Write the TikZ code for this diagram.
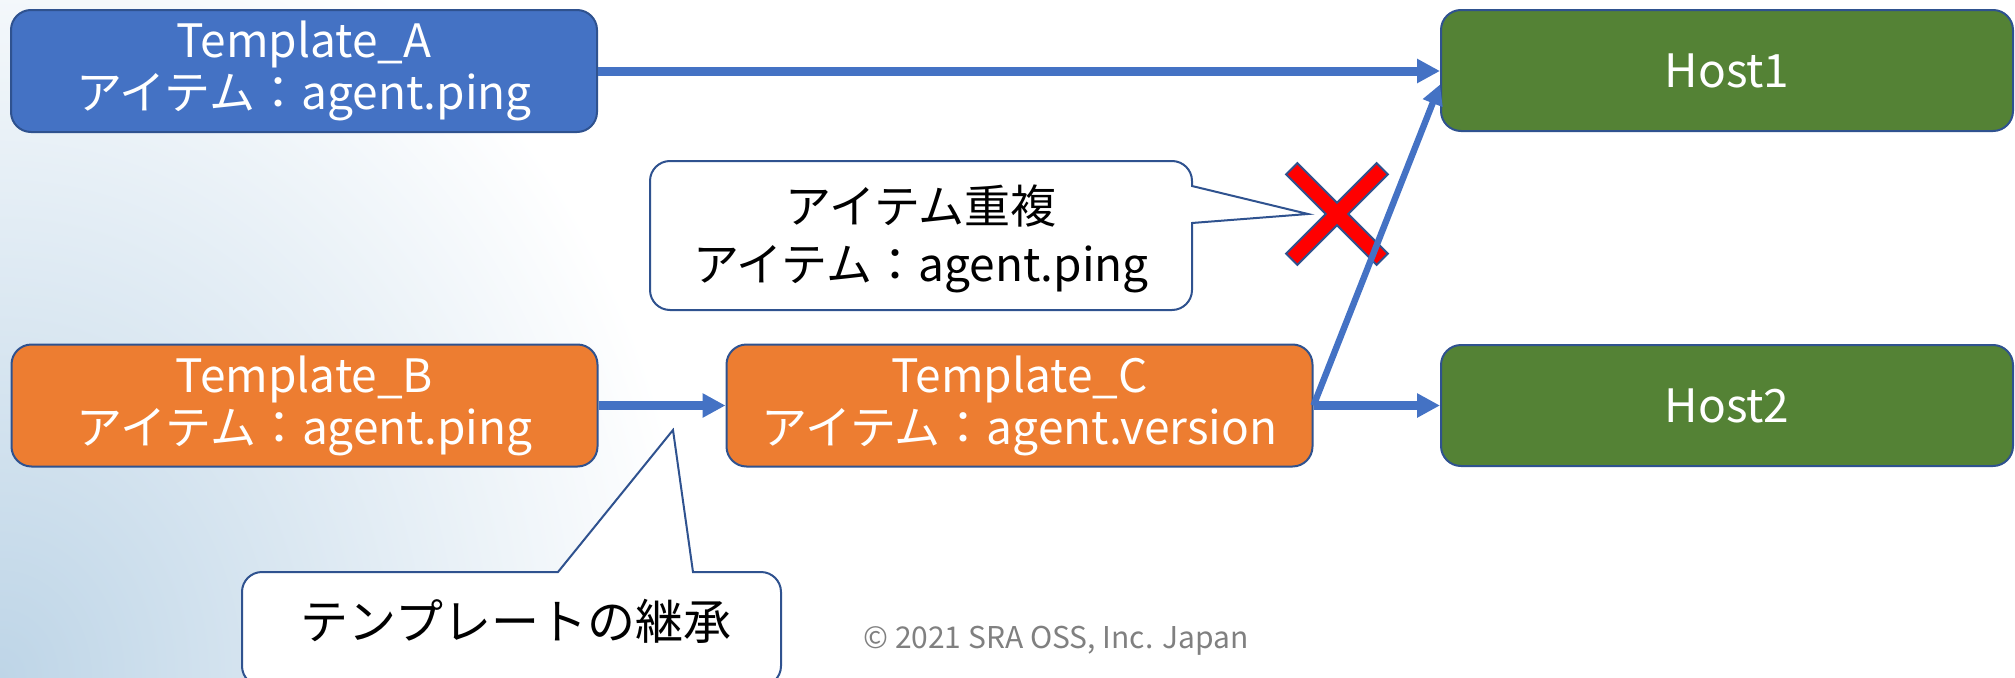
\documentclass[tikz,border=0pt]{standalone}
\usepackage{fontspec}
\setmainfont{Noto Sans CJK JP}
\usetikzlibrary{arrows.meta}
\definecolor{tblue}{HTML}{4472C4}
\definecolor{tborder}{HTML}{2F528F}
\definecolor{torange}{HTML}{ED7D31}
\definecolor{tgreen}{HTML}{548235}
\definecolor{bgblue}{HTML}{BED5E7}
\definecolor{cgray}{HTML}{808080}
\begin{document}
\begin{tikzpicture}[x=0.5pt,y=0.5pt,
  box/.style={draw=tborder, line width=1pt, rounded corners=10pt, text=white, align=center,
    font=\fontsize{23}{26}\selectfont, inner sep=0pt},
  tmpl/.style={box, minimum width=293pt, minimum height=61pt},
  host/.style={box, fill=tgreen, minimum width=286pt, minimum height=60.5pt},
  arr/.style={draw=tblue, line width=4.5pt, -{Triangle[length=11.5pt,width=11.5pt]}},
  thinarr/.style={draw=tblue, line width=3.2pt, -{Triangle[length=10pt,width=10pt]}},
  callout/.style={draw=tborder, line width=1pt, fill=white},
  ctext/.style={align=center, text=black, inner sep=0pt},
  xmark/.style={draw=tborder, line width=1pt, fill=red}
]
\useasboundingbox (0,0) rectangle (2015,677);
\clip (0,0) rectangle (2015,677);
\shade[inner color=bgblue, outer color=white] (0,0) ellipse[x radius=700, y radius=820];

% callout 1 (item duplication)
\draw[callout] (1192,491) -- (1308,463) -- (1192,454) -- (1192,387)
  arc[start angle=0,end angle=-90,radius=20] -- (670,367)
  arc[start angle=270,end angle=180,radius=20] -- (650,496)
  arc[start angle=180,end angle=90,radius=20] -- (1172,516)
  arc[start angle=90,end angle=0,radius=20] -- cycle;
% callout 2 (template inheritance)
\draw[callout] (693,105) -- (761,105)
  arc[start angle=90,end angle=0,radius=20] -- (781,11)
  arc[start angle=0,end angle=-90,radius=20] -- (262,-9)
  arc[start angle=270,end angle=180,radius=20] -- (242,85)
  arc[start angle=180,end angle=90,radius=20] -- (558,105) -- (673,247) -- cycle;

% red cross
\draw[xmark, shift={(1337,463)}, rotate=45]
  (64,8) -- (64,-8) -- (8,-8) -- (8,-64) -- (-8,-64) -- (-8,-8)
  -- (-64,-8) -- (-64,8) -- (-8,8) -- (-8,64) -- (8,64) -- (8,8) -- cycle;

% boxes
\node[tmpl, fill=tblue] (A) at (304,606) {Template\_A\\アイテム：agent.ping};
\node[tmpl, fill=torange] (B) at (304.5,271.5) {Template\_B\\アイテム：agent.ping};
\node[tmpl, fill=torange] (C) at (1019.5,271.5) {Template\_C\\アイテム：agent.version};
\node[host] (H1) at (1727,606.5) {Host1};
\node[host] (H2) at (1727,271.5) {Host2};

% callout texts
\node[ctext, font=\fontsize{23}{29}\selectfont] (dup) at (921,438) {アイテム重複\\アイテム：agent.ping};
\node[ctext, font=\fontsize{24}{28}\selectfont] (inh) at (516,56) {テンプレートの継承};

% copyright
\node[text=cgray, inner sep=0pt, font=\fontsize{15}{18}\selectfont] (copy) at (1056,36) {© 2021 SRA OSS, Inc. Japan};

% connectors
\draw[arr] (A.east) -- (A.east -| H1.west);
\draw[arr] (B.east) -- (C.west);
\draw[arr] (C.east) -- (H2.west);
\draw[thinarr] (C.east) -- ([yshift=-7pt]H1.west);
\end{tikzpicture}
\end{document}
